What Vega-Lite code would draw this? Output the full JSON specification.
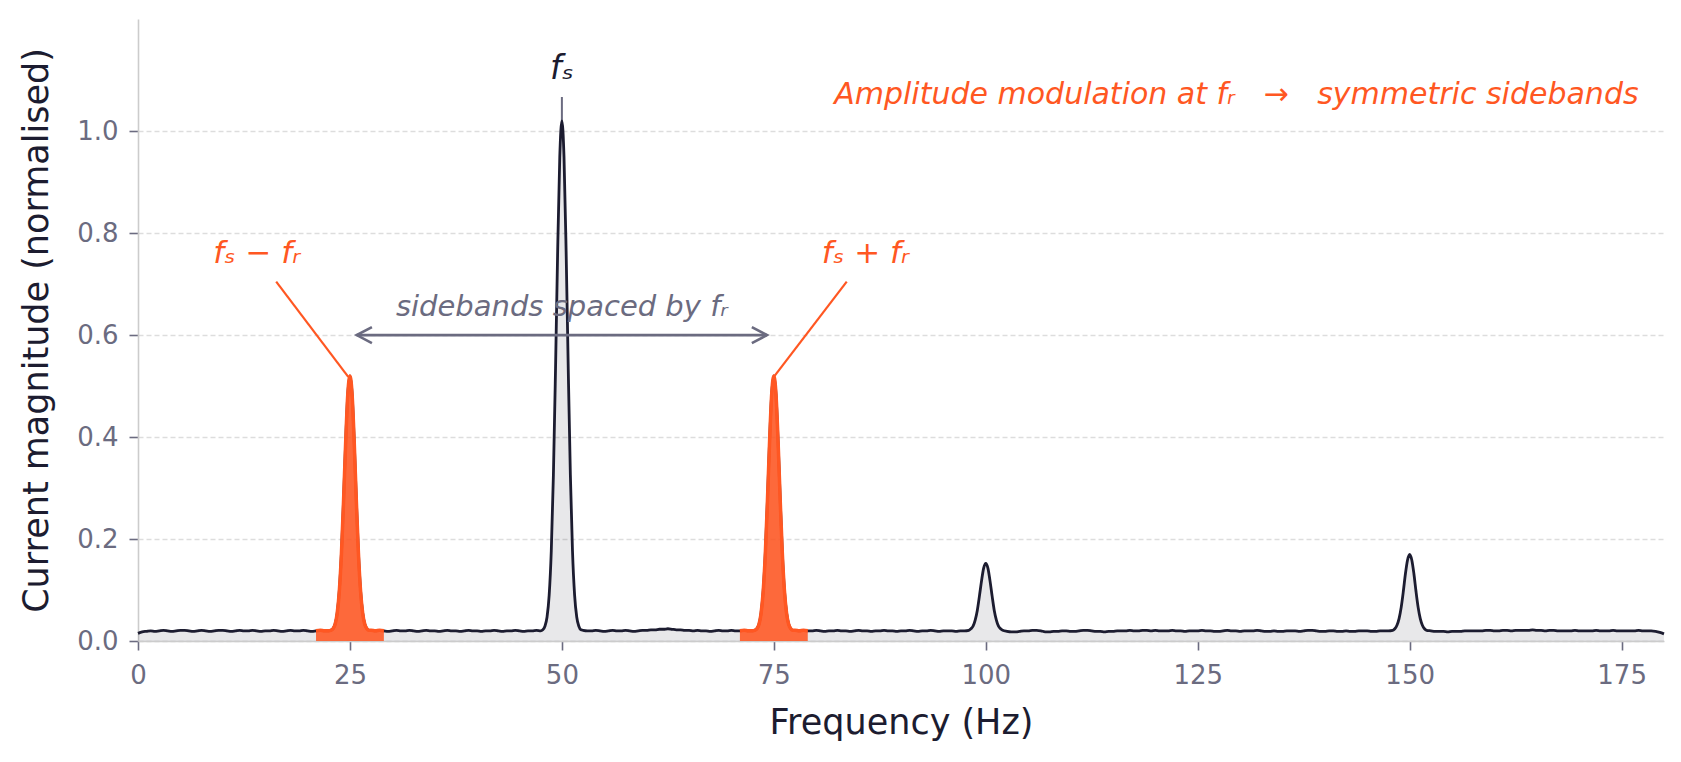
{
"$schema": "https://vega.github.io/schema/vega-lite/v6.json",
"width": 1526, "height": 622,
"autosize": {"type": "none"},
"padding": {"left": 138, "top": 19, "right": 17, "bottom": 121},
"background": "white",
"config": {"font": "DejaVu Sans", "view": {"stroke": null}},
"datasets": {
"spec": [
{"f":0,"m":0.015},{"f":0.5,"m":0.018},{"f":1,"m":0.019},{"f":1.5,"m":0.020},{"f":2,"m":0.019},{"f":2.5,"m":0.020},{"f":3,"m":0.021},{"f":3.5,"m":0.020},{"f":4,"m":0.019},{"f":4.5,"m":0.020},{"f":5,"m":0.021},{"f":5.5,"m":0.021},{"f":6,"m":0.020},{"f":6.5,"m":0.019},{"f":7,"m":0.020},{"f":7.5,"m":0.021},{"f":8,"m":0.020},{"f":8.5,"m":0.019},{"f":9,"m":0.020},{"f":9.5,"m":0.021},{"f":10,"m":0.021},{"f":10.5,"m":0.020},{"f":11,"m":0.019},{"f":11.5,"m":0.020},{"f":12,"m":0.021},{"f":12.5,"m":0.020},{"f":13,"m":0.020},{"f":13.5,"m":0.021},{"f":14,"m":0.020},{"f":14.5,"m":0.019},{"f":15,"m":0.020},{"f":15.5,"m":0.020},{"f":16,"m":0.021},{"f":16.5,"m":0.020},{"f":17,"m":0.019},{"f":17.5,"m":0.020},{"f":18,"m":0.021},{"f":18.5,"m":0.020},{"f":19,"m":0.020},{"f":19.5,"m":0.021},{"f":20,"m":0.020},{"f":20.5,"m":0.019},{"f":21,"m":0.020},{"f":21.5,"m":0.021},{"f":22,"m":0.020},{"f":22.5,"m":0.020},
{"f":22.75,"m":0.021},{"f":23,"m":0.024},{"f":23.25,"m":0.033},{"f":23.5,"m":0.055},{"f":23.75,"m":0.099},{"f":24,"m":0.173},{"f":24.25,"m":0.277},{"f":24.5,"m":0.392},{"f":24.75,"m":0.485},{"f":25,"m":0.520},{"f":25.25,"m":0.485},{"f":25.5,"m":0.392},{"f":25.75,"m":0.277},{"f":26,"m":0.173},{"f":26.25,"m":0.099},{"f":26.5,"m":0.055},{"f":26.75,"m":0.033},{"f":27,"m":0.024},{"f":27.25,"m":0.021},
{"f":27.5,"m":0.021},{"f":28,"m":0.020},{"f":28.5,"m":0.021},{"f":29,"m":0.020},{"f":29.5,"m":0.019},{"f":30,"m":0.020},{"f":30.5,"m":0.021},{"f":31,"m":0.020},{"f":31.5,"m":0.020},{"f":32,"m":0.021},{"f":32.5,"m":0.020},{"f":33,"m":0.019},{"f":33.5,"m":0.020},{"f":34,"m":0.021},{"f":34.5,"m":0.020},{"f":35,"m":0.020},{"f":35.5,"m":0.019},{"f":36,"m":0.020},{"f":36.5,"m":0.021},{"f":37,"m":0.020},{"f":37.5,"m":0.020},{"f":38,"m":0.019},{"f":38.5,"m":0.020},{"f":39,"m":0.021},{"f":39.5,"m":0.020},{"f":40,"m":0.020},{"f":40.5,"m":0.019},{"f":41,"m":0.020},{"f":41.5,"m":0.020},{"f":42,"m":0.021},{"f":42.5,"m":0.020},{"f":43,"m":0.019},{"f":43.5,"m":0.020},{"f":44,"m":0.020},{"f":44.5,"m":0.021},{"f":45,"m":0.020},{"f":45.5,"m":0.019},{"f":46,"m":0.020},{"f":46.5,"m":0.020},{"f":47,"m":0.021},{"f":47.5,"m":0.020},
{"f":47.75,"m":0.022},{"f":48,"m":0.029},{"f":48.25,"m":0.047},{"f":48.5,"m":0.090},{"f":48.75,"m":0.177},{"f":49,"m":0.326},{"f":49.25,"m":0.534},{"f":49.5,"m":0.764},{"f":49.75,"m":0.949},{"f":50,"m":1.020},{"f":50.25,"m":0.949},{"f":50.5,"m":0.764},{"f":50.75,"m":0.534},{"f":51,"m":0.326},{"f":51.25,"m":0.177},{"f":51.5,"m":0.090},{"f":51.75,"m":0.047},{"f":52,"m":0.029},{"f":52.25,"m":0.022},
{"f":52.5,"m":0.021},{"f":53,"m":0.020},{"f":53.5,"m":0.020},{"f":54,"m":0.021},{"f":54.5,"m":0.020},{"f":55,"m":0.019},{"f":55.5,"m":0.020},{"f":56,"m":0.021},{"f":56.5,"m":0.020},{"f":57,"m":0.020},{"f":57.5,"m":0.021},{"f":58,"m":0.020},{"f":58.5,"m":0.019},{"f":59,"m":0.020},{"f":59.5,"m":0.021},{"f":60,"m":0.021},{"f":60.5,"m":0.022},{"f":61,"m":0.022},{"f":61.5,"m":0.023},{"f":62,"m":0.023},{"f":62.5,"m":0.024},{"f":63,"m":0.023},{"f":63.5,"m":0.022},{"f":64,"m":0.022},{"f":64.5,"m":0.021},{"f":65,"m":0.021},{"f":65.5,"m":0.020},{"f":66,"m":0.021},{"f":66.5,"m":0.020},{"f":67,"m":0.020},{"f":67.5,"m":0.019},{"f":68,"m":0.020},{"f":68.5,"m":0.021},{"f":69,"m":0.020},{"f":69.5,"m":0.020},{"f":70,"m":0.021},{"f":70.5,"m":0.020},{"f":71,"m":0.020},{"f":71.5,"m":0.021},{"f":72,"m":0.020},{"f":72.5,"m":0.020},
{"f":72.75,"m":0.021},{"f":73,"m":0.024},{"f":73.25,"m":0.033},{"f":73.5,"m":0.055},{"f":73.75,"m":0.099},{"f":74,"m":0.173},{"f":74.25,"m":0.277},{"f":74.5,"m":0.392},{"f":74.75,"m":0.485},{"f":75,"m":0.520},{"f":75.25,"m":0.485},{"f":75.5,"m":0.392},{"f":75.75,"m":0.277},{"f":76,"m":0.173},{"f":76.25,"m":0.099},{"f":76.5,"m":0.055},{"f":76.75,"m":0.033},{"f":77,"m":0.024},{"f":77.25,"m":0.021},
{"f":77.5,"m":0.021},{"f":78,"m":0.020},{"f":78.5,"m":0.021},{"f":79,"m":0.020},{"f":79.5,"m":0.020},{"f":80,"m":0.021},{"f":80.5,"m":0.020},{"f":81,"m":0.019},{"f":81.5,"m":0.020},{"f":82,"m":0.020},{"f":82.5,"m":0.021},{"f":83,"m":0.020},{"f":83.5,"m":0.020},{"f":84,"m":0.019},{"f":84.5,"m":0.020},{"f":85,"m":0.021},{"f":85.5,"m":0.020},{"f":86,"m":0.020},{"f":86.5,"m":0.019},{"f":87,"m":0.020},{"f":87.5,"m":0.020},{"f":88,"m":0.021},{"f":88.5,"m":0.020},{"f":89,"m":0.020},{"f":89.5,"m":0.019},{"f":90,"m":0.020},{"f":90.5,"m":0.020},{"f":91,"m":0.021},{"f":91.5,"m":0.020},{"f":92,"m":0.019},{"f":92.5,"m":0.020},{"f":93,"m":0.020},{"f":93.5,"m":0.021},{"f":94,"m":0.020},{"f":94.5,"m":0.019},{"f":95,"m":0.020},{"f":95.5,"m":0.020},{"f":96,"m":0.020},{"f":96.5,"m":0.019},{"f":97,"m":0.020},{"f":97.5,"m":0.020},
{"f":98,"m":0.021},{"f":98.25,"m":0.024},{"f":98.5,"m":0.029},{"f":98.75,"m":0.041},{"f":99,"m":0.060},{"f":99.25,"m":0.088},{"f":99.5,"m":0.118},{"f":99.75,"m":0.143},{"f":100,"m":0.152},{"f":100.25,"m":0.143},{"f":100.5,"m":0.118},{"f":100.75,"m":0.088},{"f":101,"m":0.060},{"f":101.25,"m":0.041},{"f":101.5,"m":0.029},{"f":101.75,"m":0.024},{"f":102,"m":0.021},
{"f":102.5,"m":0.019},{"f":103,"m":0.018},{"f":103.5,"m":0.018},{"f":104,"m":0.019},{"f":104.5,"m":0.020},{"f":105,"m":0.020},{"f":105.5,"m":0.021},{"f":106,"m":0.021},{"f":106.5,"m":0.020},{"f":107,"m":0.018},{"f":107.5,"m":0.018},{"f":108,"m":0.019},{"f":108.5,"m":0.019},{"f":109,"m":0.020},{"f":109.5,"m":0.020},{"f":110,"m":0.019},{"f":110.5,"m":0.019},{"f":111,"m":0.020},{"f":111.5,"m":0.021},{"f":112,"m":0.021},{"f":112.5,"m":0.020},{"f":113,"m":0.019},{"f":113.5,"m":0.019},{"f":114,"m":0.018},{"f":114.5,"m":0.019},{"f":115,"m":0.019},{"f":115.5,"m":0.020},{"f":116,"m":0.020},{"f":116.5,"m":0.020},{"f":117,"m":0.021},{"f":117.5,"m":0.020},{"f":118,"m":0.020},{"f":118.5,"m":0.021},{"f":119,"m":0.021},{"f":119.5,"m":0.020},{"f":120,"m":0.021},{"f":120.5,"m":0.020},{"f":121,"m":0.020},{"f":121.5,"m":0.020},{"f":122,"m":0.021},{"f":122.5,"m":0.020},{"f":123,"m":0.020},{"f":123.5,"m":0.019},{"f":124,"m":0.020},{"f":124.5,"m":0.020},{"f":125,"m":0.020},{"f":125.5,"m":0.021},{"f":126,"m":0.020},{"f":126.5,"m":0.020},{"f":127,"m":0.019},{"f":127.5,"m":0.019},{"f":128,"m":0.020},{"f":128.5,"m":0.021},{"f":129,"m":0.020},{"f":129.5,"m":0.020},{"f":130,"m":0.019},{"f":130.5,"m":0.020},{"f":131,"m":0.020},{"f":131.5,"m":0.020},{"f":132,"m":0.021},{"f":132.5,"m":0.020},{"f":133,"m":0.019},{"f":133.5,"m":0.019},{"f":134,"m":0.020},{"f":134.5,"m":0.019},{"f":135,"m":0.019},{"f":135.5,"m":0.020},{"f":136,"m":0.020},{"f":136.5,"m":0.020},{"f":137,"m":0.019},{"f":137.5,"m":0.020},{"f":138,"m":0.021},{"f":138.5,"m":0.021},{"f":139,"m":0.020},{"f":139.5,"m":0.019},{"f":140,"m":0.019},{"f":140.5,"m":0.020},{"f":141,"m":0.020},{"f":141.5,"m":0.019},{"f":142,"m":0.019},{"f":142.5,"m":0.020},{"f":143,"m":0.019},{"f":143.5,"m":0.019},{"f":144,"m":0.020},{"f":144.5,"m":0.020},{"f":145,"m":0.020},{"f":145.5,"m":0.019},{"f":146,"m":0.019},{"f":146.5,"m":0.020},{"f":147,"m":0.020},{"f":147.5,"m":0.020},
{"f":148,"m":0.021},{"f":148.25,"m":0.024},{"f":148.5,"m":0.031},{"f":148.75,"m":0.044},{"f":149,"m":0.066},{"f":149.25,"m":0.097},{"f":149.5,"m":0.132},{"f":149.75,"m":0.159},{"f":150,"m":0.170},{"f":150.25,"m":0.159},{"f":150.5,"m":0.132},{"f":150.75,"m":0.097},{"f":151,"m":0.066},{"f":151.25,"m":0.044},{"f":151.5,"m":0.031},{"f":151.75,"m":0.024},{"f":152,"m":0.021},
{"f":152.5,"m":0.020},{"f":153,"m":0.019},{"f":153.5,"m":0.019},{"f":154,"m":0.019},{"f":154.5,"m":0.018},{"f":155,"m":0.019},{"f":155.5,"m":0.019},{"f":156,"m":0.019},{"f":156.5,"m":0.020},{"f":157,"m":0.020},{"f":157.5,"m":0.020},{"f":158,"m":0.020},{"f":158.5,"m":0.020},{"f":159,"m":0.021},{"f":159.5,"m":0.021},{"f":160,"m":0.020},{"f":160.5,"m":0.020},{"f":161,"m":0.021},{"f":161.5,"m":0.021},{"f":162,"m":0.020},{"f":162.5,"m":0.021},{"f":163,"m":0.021},{"f":163.5,"m":0.021},{"f":164,"m":0.021},{"f":164.5,"m":0.022},{"f":165,"m":0.021},{"f":165.5,"m":0.021},{"f":166,"m":0.020},{"f":166.5,"m":0.021},{"f":167,"m":0.021},{"f":167.5,"m":0.020},{"f":168,"m":0.020},{"f":168.5,"m":0.020},{"f":169,"m":0.020},{"f":169.5,"m":0.021},{"f":170,"m":0.020},{"f":170.5,"m":0.020},{"f":171,"m":0.020},{"f":171.5,"m":0.020},{"f":172,"m":0.021},{"f":172.5,"m":0.020},{"f":173,"m":0.020},{"f":173.5,"m":0.020},{"f":174,"m":0.021},{"f":174.5,"m":0.020},{"f":175,"m":0.020},{"f":175.5,"m":0.020},{"f":176,"m":0.020},{"f":176.5,"m":0.020},{"f":177,"m":0.021},{"f":177.5,"m":0.020},{"f":178,"m":0.020},{"f":178.5,"m":0.020},{"f":179,"m":0.019},{"f":179.5,"m":0.017},{"f":180,"m":0.014}
],
"leaders": [{"x":16.3,"y":0.705,"x2":24.8,"y2":0.518},{"x":83.6,"y":0.705,"x2":75.0,"y2":0.518}],
"arrow": [{"x":25.8,"x2":74.2,"y":0.6}],
"heads": [{"x":25.8,"y":0.6,"dir":"l"},{"x":74.2,"y":0.6,"dir":"r"}],
"fsline": [{"x":50,"y":1.0,"y2":1.067}]
},
"layer": [
{
"data": {"name": "spec"},
"mark": {"type": "area", "color": "#1c1c30", "fillOpacity": 0.1, "interpolate": "monotone"},
"encoding": {
"x": {"field": "f", "type": "quantitative", "scale": {"domain": [0, 180], "nice": false, "zero": false},
"axis": {"values": [0,25,50,75,100,125,150,175], "grid": false, "domainColor": "#cccccc", "domainWidth": 1.6, "tickColor": "#6b6b80", "tickSize": 9, "tickWidth": 1.6, "labelFontSize": 26, "labelColor": "#6b6b80", "labelPadding": 12, "labelFlush": false, "title": "Frequency (Hz)", "titleFontSize": 35, "titleFontWeight": "normal", "titleColor": "#1c1c30", "titlePadding": 17}},
"y": {"field": "m", "type": "quantitative", "stack": null, "scale": {"domain": [0, 1.22], "nice": false},
"axis": {"values": [0,0.2,0.4,0.6,0.8,1.0], "format": ".1f", "grid": true, "gridColor": "#dddddd", "gridDash": [5,3], "gridWidth": 1.3, "domainColor": "#cccccc", "domainWidth": 1.6, "tickColor": "#6b6b80", "tickSize": 9, "tickWidth": 1.6, "labelFontSize": 26, "labelColor": "#6b6b80", "labelPadding": 11, "title": "Current magnitude (normalised)", "titleFontSize": 35, "titleFontWeight": "normal", "titleColor": "#1c1c30", "titlePadding": 22}}
}
},
{
"data": {"name": "fsline"},
"mark": {"type": "rule", "color": "#6b6b80", "strokeWidth": 2},
"encoding": {"x": {"field": "x", "type": "quantitative"}, "y": {"field": "y", "type": "quantitative"}, "y2": {"field": "y2"}}
},
{
"data": {"name": "spec"},
"mark": {"type": "line", "color": "#1c1c30", "strokeWidth": 2.8, "interpolate": "monotone"},
"encoding": {"x": {"field": "f", "type": "quantitative"}, "y": {"field": "m", "type": "quantitative"}}
},
{
"data": {"name": "spec"},
"transform": [{"filter": {"field": "f", "range": [21, 29]}}],
"mark": {"type": "area", "color": "#ff5722", "fillOpacity": 0.88, "interpolate": "monotone", "line": {"color": "#ff5722", "strokeWidth": 3.5}},
"encoding": {"x": {"field": "f", "type": "quantitative"}, "y": {"field": "m", "type": "quantitative", "stack": null}}
},
{
"data": {"name": "spec"},
"transform": [{"filter": {"field": "f", "range": [71, 79]}}],
"mark": {"type": "area", "color": "#ff5722", "fillOpacity": 0.88, "interpolate": "monotone", "line": {"color": "#ff5722", "strokeWidth": 3.5}},
"encoding": {"x": {"field": "f", "type": "quantitative"}, "y": {"field": "m", "type": "quantitative", "stack": null}}
},
{
"data": {"name": "leaders"},
"mark": {"type": "rule", "color": "#ff5722", "strokeWidth": 2.2},
"encoding": {"x": {"field": "x", "type": "quantitative"}, "y": {"field": "y", "type": "quantitative"}, "x2": {"field": "x2"}, "y2": {"field": "y2"}}
},
{
"data": {"name": "arrow"},
"mark": {"type": "rule", "color": "#6b6b80", "strokeWidth": 2.6},
"encoding": {"x": {"field": "x", "type": "quantitative"}, "x2": {"field": "x2"}, "y": {"field": "y", "type": "quantitative"}}
},
{
"data": {"name": "heads"},
"mark": {"type": "point", "filled": false, "color": "#6b6b80", "strokeWidth": 2.6, "size": 256, "opacity": 1},
"encoding": {"x": {"field": "x", "type": "quantitative"}, "y": {"field": "y", "type": "quantitative"},
"shape": {"field": "dir", "type": "nominal", "scale": {"domain": ["l", "r"], "range": ["M1.9,-1L0,0L1.9,1", "M-1.9,-1L0,0L-1.9,1"]}, "legend": null}}
},
{
"data": {"values": [{"x": 50, "y": 1.102, "t": "fₛ"}]},
"mark": {"type": "text", "fontSize": 33, "fontStyle": "italic", "color": "#1c1c30", "align": "center", "baseline": "alphabetic"},
"encoding": {"x": {"field": "x", "type": "quantitative"}, "y": {"field": "y", "type": "quantitative"}, "text": {"field": "t"}}
},
{
"data": {"values": [{"x": 14, "y": 0.742, "t": "fₛ − fᵣ"}, {"x": 85.8, "y": 0.742, "t": "fₛ + fᵣ"}]},
"mark": {"type": "text", "fontSize": 31, "fontStyle": "italic", "color": "#ff5722", "align": "center", "baseline": "alphabetic"},
"encoding": {"x": {"field": "x", "type": "quantitative"}, "y": {"field": "y", "type": "quantitative"}, "text": {"field": "t"}}
},
{
"data": {"values": [{"x": 50, "y": 0.638, "t": "sidebands spaced by fᵣ"}]},
"mark": {"type": "text", "fontSize": 29, "fontStyle": "italic", "color": "#6b6b80", "align": "center", "baseline": "alphabetic"},
"encoding": {"x": {"field": "x", "type": "quantitative"}, "y": {"field": "y", "type": "quantitative"}, "text": {"field": "t"}}
},
{
"data": {"values": [{"x": 177.0, "y": 1.053, "t": "Amplitude modulation at fᵣ\u00a0\u00a0\u00a0→\u00a0\u00a0\u00a0symmetric sidebands"}]},
"mark": {"type": "text", "fontSize": 30, "fontStyle": "italic", "color": "#ff5722", "align": "right", "baseline": "alphabetic"},
"encoding": {"x": {"field": "x", "type": "quantitative"}, "y": {"field": "y", "type": "quantitative"}, "text": {"field": "t"}}
}
]
}
